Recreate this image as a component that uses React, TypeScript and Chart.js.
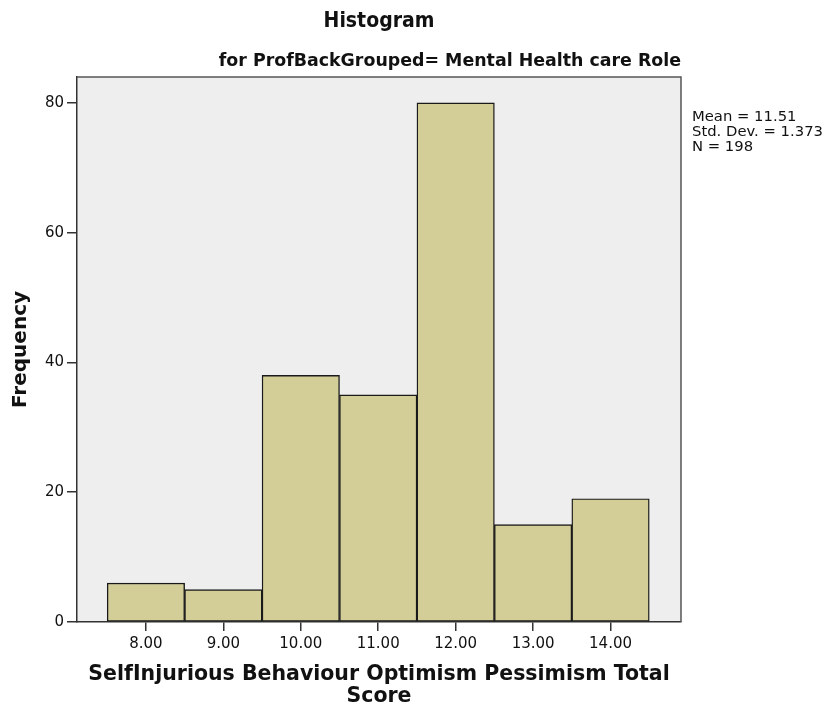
import React, { useEffect, useRef } from "react";
import { Chart, registerables } from "chart.js";

Chart.register(...registerables);

// ---- data ----
const BIN_CENTERS = [8, 9, 10, 11, 12, 13, 14];
const FREQUENCIES = [6, 5, 38, 35, 80, 15, 19];
const X_TICKS = [8, 9, 10, 11, 12, 13, 14];
const Y_TICKS = [0, 20, 40, 60, 80];
const X_MIN = 7.11;
const X_MAX = 14.91;
const Y_MAX = 84;
const TITLE = "Histogram";
const SUBTITLE = "for ProfBackGrouped= Mental Health care Role";
const X_TITLE = ["SelfInjurious Behaviour Optimism Pessimism Total", "Score"];
const Y_TITLE = "Frequency";
const STATS = ["Mean = 11.51", "Std. Dev. = 1.373", "N = 198"];

const SANS = "'DejaVu Sans', 'Noto Sans', sans-serif";
const NARROW = "'Liberation Sans Narrow', 'DejaVu Sans Condensed', sans-serif";

const plotFrame = {
  id: "plotFrame",
  beforeDraw(chart: any) {
    const { ctx, chartArea } = chart;
    const { left, top, right, bottom } = chartArea;
    ctx.save();
    ctx.fillStyle = "#EEEEEE";
    ctx.fillRect(left, top, right - left, bottom - top);
    ctx.restore();
  },
  afterDatasetsDraw(chart: any) {
    const { ctx, chartArea } = chart;
    const { left, top, right, bottom } = chartArea;
    ctx.save();
    ctx.strokeStyle = "#555555";
    ctx.lineWidth = 1.5;
    ctx.beginPath();
    ctx.moveTo(left, top);
    ctx.lineTo(right, top);
    ctx.lineTo(right, bottom);
    ctx.stroke();
    ctx.restore();
  },
};

const statsBox = {
  id: "statsBox",
  afterDraw(chart: any) {
    const { ctx, chartArea } = chart;
    ctx.save();
    ctx.font = `14.8px ${SANS}`;
    ctx.fillStyle = "#111111";
    ctx.textAlign = "left";
    ctx.textBaseline = "alphabetic";
    STATS.forEach((line, i) => {
      ctx.fillText(line, chartArea.right + 11, chartArea.top + 43.7 + i * 15.2);
    });
    ctx.restore();
  },
};

export default function App() {
  const canvasRef = useRef<HTMLCanvasElement | null>(null);

  useEffect(() => {
    document.body.style.margin = "0";
    const canvas = canvasRef.current;
    if (!canvas) return;
    const chart = new Chart(canvas, {
      type: "bar",
      data: {
        datasets: [
          {
            label: "Frequency",
            data: BIN_CENTERS.map((x, i) => ({ x, y: FREQUENCIES[i] })),
            backgroundColor: "#D3CE98",
            borderColor: "#1A1A1A",
            borderWidth: 1.4,
            borderSkipped: false,
            barPercentage: 1,
            categoryPercentage: 1,
          },
        ],
      },
      options: {
        responsive: false,
        animation: false,
        events: [],
        layout: { padding: { left: 0, right: 146, top: 0, bottom: 0 } },
        plugins: {
          legend: { display: false },
          tooltip: { enabled: false },
          title: {
            display: true,
            text: TITLE,
            fullSize: false,
            align: "center",
            color: "#111111",
            font: { family: NARROW, size: 21, weight: "bold", lineHeight: 1.2 },
            padding: { top: 9.1, bottom: 0 },
          },
          subtitle: {
            display: true,
            text: SUBTITLE,
            fullSize: false,
            align: "end",
            color: "#111111",
            font: { family: SANS, size: 17.4, weight: "bold", lineHeight: 1.2 },
            padding: { top: 16.3, bottom: 5.5 },
          },
        },
        scales: {
          x: {
            type: "linear",
            min: X_MIN,
            max: X_MAX,
            offset: false,
            grid: {
              offset: false,
              drawOnChartArea: false,
              drawTicks: true,
              tickLength: 9,
              color: "#333333",
              lineWidth: 1.5,
            },
            border: { display: true, color: "#333333", width: 1.5 },
            afterBuildTicks(scale: any) {
              scale.ticks = X_TICKS.map((v) => ({ value: v }));
            },
            afterFit(scale: any) {
              scale.height = 87;
            },
            ticks: {
              autoSkip: false,
              maxRotation: 0,
              padding: 4,
              color: "#111111",
              font: { family: SANS, size: 15 },
              callback: (v: any) => Number(v).toFixed(2),
            },
            title: {
              display: true,
              text: X_TITLE,
              color: "#111111",
              font: { family: SANS, size: 20.5, weight: "bold", lineHeight: 1.073 },
              padding: { top: 0, bottom: 1.1 },
            },
          },
          y: {
            type: "linear",
            min: 0,
            max: Y_MAX,
            grid: {
              drawOnChartArea: false,
              drawTicks: true,
              tickLength: 10,
              color: "#333333",
              lineWidth: 1.5,
            },
            border: { display: true, color: "#333333", width: 1.5 },
            afterBuildTicks(scale: any) {
              scale.ticks = Y_TICKS.map((v) => ({ value: v }));
            },
            afterFit(scale: any) {
              scale.width = 77;
            },
            ticks: {
              padding: 3,
              color: "#111111",
              font: { family: SANS, size: 15 },
            },
            title: {
              display: true,
              text: Y_TITLE,
              color: "#111111",
              font: { family: SANS, size: 20, weight: "bold", lineHeight: 1.2 },
              padding: { top: 9, bottom: 0 },
            },
          },
        },
      },
      plugins: [plotFrame, statsBox],
    } as any);
    return () => chart.destroy();
  }, []);

  return (
    <div style={{ width: 827, height: 709 }}>
      <canvas ref={canvasRef} width={827} height={709} />
    </div>
  );
}
